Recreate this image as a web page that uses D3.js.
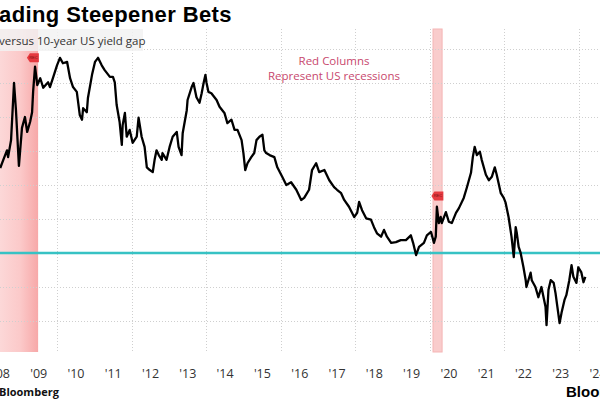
<!DOCTYPE html>
<html>
<head>
<meta charset="utf-8">
<script src="https://cdn.jsdelivr.net/npm/d3@7/dist/d3.min.js"></script>
<style>
  html, body { margin: 0; padding: 0; background: #fff; }
  svg { display: block; }
</style>
</head>
<body>
<svg id="chart" width="600" height="400"></svg>
<script>
// ---------------- DATA ----------------
const titleText = "ading Steepener Bets";
const subtitleText = "versus 10-year US yield gap";
const sourceText = "Bloomberg";
const logoText = "Bloomberg";
const noteLines = ["Red Columns", "Represent US recessions"];

// decimal year of each observation
const years = [
  2008.48, 2008.56, 2008.66, 2008.69, 2008.77, 2008.85, 2008.90, 2008.98, 2009.06, 2009.14,
  2009.20, 2009.28, 2009.33, 2009.36, 2009.41, 2009.47, 2009.55, 2009.63, 2009.76, 2009.81,
  2009.89, 2010.00, 2010.08, 2010.16, 2010.27, 2010.35, 2010.43, 2010.53, 2010.61, 2010.67,
  2010.70, 2010.80, 2010.83, 2010.94, 2011.02, 2011.10, 2011.20, 2011.28, 2011.42, 2011.50,
  2011.55, 2011.60, 2011.68, 2011.74, 2011.76, 2011.82, 2011.87, 2011.95, 2012.03, 2012.14,
  2012.19, 2012.27, 2012.35, 2012.41, 2012.49, 2012.57, 2012.62, 2012.67, 2012.73, 2012.81,
  2012.83, 2012.94, 2013.02, 2013.10, 2013.21, 2013.26, 2013.34, 2013.37, 2013.48, 2013.50,
  2013.61, 2013.66, 2013.74, 2013.82, 2013.88, 2013.93, 2013.98, 2014.01, 2014.06, 2014.14,
  2014.28, 2014.36, 2014.49, 2014.57, 2014.68, 2014.76, 2014.84, 2014.95, 2015.00, 2015.05,
  2015.11, 2015.21, 2015.29, 2015.35, 2015.43, 2015.51, 2015.56, 2015.61, 2015.70, 2015.83,
  2015.91, 2016.04, 2016.15, 2016.28, 2016.42, 2016.55, 2016.63, 2016.76, 2016.84, 2016.95,
  2017.03, 2017.17, 2017.30, 2017.43, 2017.51, 2017.62, 2017.70, 2017.83, 2017.97, 2018.05,
  2018.10, 2018.18, 2018.29, 2018.42, 2018.50, 2018.58, 2018.69, 2018.77, 2018.85, 2018.96,
  2019.09, 2019.22, 2019.36, 2019.49, 2019.55, 2019.63, 2019.71, 2019.84, 2019.92, 2020.03,
  2020.11, 2020.16, 2020.19, 2020.24, 2020.29, 2020.32, 2020.43, 2020.51, 2020.59, 2020.70,
  2020.78, 2020.91, 2020.99, 2021.10, 2021.15, 2021.20, 2021.26, 2021.34, 2021.39, 2021.50,
  2021.58, 2021.66, 2021.74, 2021.79, 2021.84, 2021.90, 2021.98, 2022.03, 2022.11, 2022.19,
  2022.25, 2022.30, 2022.33, 2022.38, 2022.43, 2022.51, 2022.57, 2022.59, 2022.70, 2022.73,
  2022.83, 2022.91, 2022.99, 2023.10, 2023.13, 2023.18, 2023.24, 2023.32, 2023.37, 2023.42,
  2023.48, 2023.53, 2023.61, 2023.66, 2023.74, 2023.80, 2023.85, 2023.93, 2023.98, 2024.06,
  2024.12, 2024.17
];
// yield gap (percentage points)
const gap = [
  1.25, 1.37, 1.51, 1.41, 1.66, 2.50, 2.10, 1.28, 1.84, 2.00,
  1.78, 1.93, 2.07, 2.37, 2.74, 2.47, 2.57, 2.43, 2.51, 2.44,
  2.57, 2.76, 2.87, 2.79, 2.81, 2.57, 2.44, 2.37, 2.03, 1.96,
  2.13, 2.07, 2.28, 2.62, 2.81, 2.87, 2.76, 2.69, 2.59, 2.59,
  2.51, 2.18, 1.93, 1.59, 1.88, 2.06, 1.71, 1.81, 1.62, 1.71,
  1.99, 1.71, 1.56, 1.26, 1.22, 1.19, 1.37, 1.51, 1.44, 1.37,
  1.47, 1.37, 1.56, 1.71, 1.78, 1.56, 1.44, 1.76, 2.10, 2.25,
  2.44, 2.50, 2.29, 2.21, 2.35, 2.50, 2.62, 2.50, 2.37, 2.35,
  2.25, 2.15, 2.06, 1.91, 1.96, 1.81, 1.81, 1.66, 1.47, 1.22,
  1.32, 1.41, 1.47, 1.66, 1.71, 1.74, 1.51, 1.47, 1.44, 1.41,
  1.26, 1.12, 1.00, 1.04, 0.93, 0.78, 0.81, 0.93, 1.22, 1.32,
  1.19, 1.22, 1.07, 0.97, 0.93, 0.88, 0.78, 0.68, 0.53, 0.59,
  0.75, 0.63, 0.51, 0.49, 0.38, 0.29, 0.24, 0.34, 0.24, 0.15,
  0.16, 0.19, 0.19, 0.26, 0.15, -0.03, 0.09, 0.15, 0.26, 0.31,
  0.15, 0.24, 0.68, 0.44, 0.53, 0.44, 0.60, 0.46, 0.44, 0.59,
  0.66, 0.81, 0.96, 1.18, 1.41, 1.56, 1.44, 1.49, 1.37, 1.15,
  1.07, 1.12, 1.26, 1.15, 1.03, 0.88, 0.81, 0.74, 0.53, 0.24,
  -0.06, 0.38, 0.29, 0.09, 0.01, -0.21, -0.40, -0.50, -0.29, -0.40,
  -0.50, -0.65, -0.50, -0.79, -1.06, -0.54, -0.40, -0.44, -0.59, -0.79,
  -1.03, -0.88, -0.69, -0.62, -0.40, -0.18, -0.35, -0.44, -0.21, -0.28,
  -0.43, -0.35
];

// US recessions
const recessionStarts = ["2007-12-01", "2020-02-01"];
const recessionEnds   = ["2009-06-30", "2020-04-30"];
// small recession tags (date, value they sit at)
const tagDates  = ["2009-05-10", "2020-03-15"];
const tagValues = [2.87, 0.84];
const tagLabel = "REC";

// axis
const tickYears = d3.range(2008, 2025);          // labels '08 .. '24
const gridYears = [2008, 2010, 2012, 2014, 2016, 2018, 2020, 2022, 2024];
const gridValues = [-1, -0.5, 0.5, 1, 1.5, 2, 2.5, 3];
const zeroValue = 0;

// ---------------- DRAW ----------------
const svg = d3.select("#chart");
const W = 600, H = 400;
const plotTop = 29, plotBottom = 352;

const toDate = y => {
  const yr = Math.floor(y);
  return new Date(yr, 0, 1 + Math.round((y - yr) * 365.25));
};
const series = years.map((y, i) => ({ date: toDate(y), value: gap[i] }));

const x = d3.scaleTime()
  .domain([new Date(2010, 0, 1), new Date(2024, 0, 1)])
  .range([57, 579]);
const y = d3.scaleLinear().domain([-1, 3]).range([321, 49]);

const defs = svg.append("defs");
const grad = defs.append("linearGradient").attr("id", "recGrad")
  .attr("x1", "0%").attr("x2", "100%").attr("y1", "0%").attr("y2", "0%");
grad.append("stop").attr("offset", "0%").attr("stop-color", "#fde7e7");
grad.append("stop").attr("offset", "70%").attr("stop-color", "#fbc9c9");
grad.append("stop").attr("offset", "100%").attr("stop-color", "#f7a8a8");

// recession columns
const rec = recessionStarts.map((s, i) => ({ s: new Date(s), e: new Date(recessionEnds[i]) }));
svg.append("g").selectAll("rect").data(rec).join("rect")
  .attr("x", d => x(d.s))
  .attr("y", plotTop)
  .attr("width", d => x(d.e) - x(d.s))
  .attr("height", plotBottom - plotTop)
  .attr("fill", (d, i) => i === 0 ? "url(#recGrad)" : "#f9cccc")
  .attr("stroke", (d, i) => i === 0 ? "none" : "#f5b5b5")
  .attr("stroke-width", 1);

// grid
const grid = svg.append("g").attr("stroke", "#cfcfcf").attr("stroke-dasharray", "1,2").attr("stroke-width", 1);
grid.selectAll("line.h").data(gridValues).join("line").attr("class", "h")
  .attr("x1", 0).attr("x2", W)
  .attr("y1", d => Math.round(y(d)) + 0.5).attr("y2", d => Math.round(y(d)) + 0.5);
grid.selectAll("line.v").data(gridYears).join("line").attr("class", "v")
  .attr("x1", d => Math.round(x(new Date(d, 0, 1))) + 0.5)
  .attr("x2", d => Math.round(x(new Date(d, 0, 1))) + 0.5)
  .attr("y1", plotTop).attr("y2", plotBottom);

// zero line
svg.append("line")
  .attr("x1", 0).attr("x2", W)
  .attr("y1", y(zeroValue)).attr("y2", y(zeroValue))
  .attr("stroke", "#37c2c4").attr("stroke-width", 2.5);

// data line
const line = d3.line().x(d => x(d.date)).y(d => y(d.value)).curve(d3.curveLinear);
svg.append("path").datum(series)
  .attr("d", line)
  .attr("fill", "none")
  .attr("stroke", "#000")
  .attr("stroke-width", 2.3)
  .attr("stroke-linejoin", "round");

// recession tags
const tags = tagDates.map((d, i) => ({ date: new Date(d), value: tagValues[i] }));
const tg = svg.append("g").selectAll("g").data(tags).join("g")
  .attr("transform", d => `translate(${x(d.date)},${y(d.value)})`);
tg.append("path")
  .attr("d", "M-6,0 L-3,-4.5 L6,-4.5 L6,4.5 L-3,4.5 Z")
  .attr("fill", "#e5393f");
tg.append("text").text(tagLabel)
  .attr("x", 0.5).attr("y", 1.5)
  .attr("text-anchor", "middle")
  .attr("font-family", "Liberation Sans, Arial, sans-serif")
  .attr("font-size", 4)
  .attr("fill", "#7a1010");

// x axis labels at mid-year
const axis = d3.axisBottom(x)
  .tickValues(tickYears.map(yr => new Date(yr, 6, 1)))
  .tickFormat(d3.timeFormat("'%y"))
  .tickSize(0).tickPadding(0);
const ax = svg.append("g").attr("transform", `translate(0,${plotBottom + 17})`).call(axis);
ax.select(".domain").remove();
ax.selectAll("text")
  .attr("font-family", "Open Sans, Noto Sans, sans-serif")
  .attr("font-size", 12.5)
  .attr("fill", "#333");

// subtitle box
svg.append("rect").attr("x", 0).attr("y", plotTop).attr("width", 143).attr("height", 22)
  .attr("fill", "#f2f2f2").attr("fill-opacity", 0.85);
svg.append("text").text(subtitleText)
  .attr("x", -1).attr("y", 45)
  .attr("font-family", "Open Sans, Noto Sans, sans-serif")
  .attr("font-size", 11.5)
  .attr("fill", "#333");

// title
svg.append("text").text(titleText)
  .attr("x", -1).attr("y", 22)
  .attr("font-family", "Liberation Sans, Arial, sans-serif")
  .attr("font-weight", "bold")
  .attr("font-size", 22)
  .attr("letter-spacing", 0.4)
  .attr("fill", "#000");

// annotation (two separate lines)
svg.append("g").selectAll("text").data(noteLines).join("text")
  .attr("x", 334).attr("y", (d, i) => 65 + i * 15)
  .attr("text-anchor", "middle")
  .attr("font-family", "Open Sans, Noto Sans, sans-serif")
  .attr("font-size", 11.5)
  .attr("fill", "#c8486e")
  .text(d => d);

// footer
svg.append("text").text(sourceText)
  .attr("x", -1).attr("y", 396)
  .attr("font-family", "Open Sans, Noto Sans, sans-serif")
  .attr("font-weight", "bold")
  .attr("font-size", 11)
  .attr("fill", "#111");
svg.append("text").text(logoText)
  .attr("x", 566).attr("y", 397)
  .attr("font-family", "Liberation Sans, Arial, sans-serif")
  .attr("font-weight", "bold")
  .attr("font-size", 15)
  .attr("fill", "#000");
</script>
</body>
</html>
